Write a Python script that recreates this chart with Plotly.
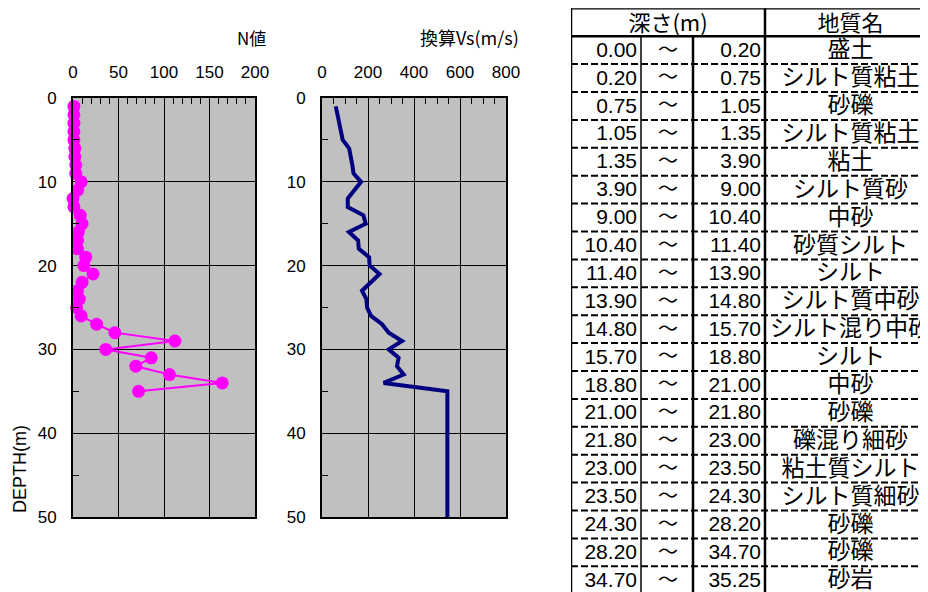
import plotly.graph_objects as go

# ---------------- data ----------------
n_depth = list(range(1, 36))
n_value = [1, 1, 1, 1, 1, 2, 2, 3, 3, 9, 5, 0, 1, 8, 10, 6, 5, 5, 14, 12,
           22, 10, 5, 7, 4, 9, 26, 46, 112, 36, 86, 69, 106, 164, 72]

vs_depth = [1, 5, 6, 7, 8, 9, 10, 12, 13, 14, 15, 16, 17, 18, 19, 20, 21, 23,
            24, 25, 26, 27, 28, 29, 30, 31, 32, 33, 34, 35, 50]
vs_value = [60, 90, 118, 127, 132, 137, 170, 112, 112, 180, 190, 117, 157, 160,
            205, 207, 250, 174, 193, 196, 213, 261, 290, 348, 290, 333, 326, 355,
            268, 545, 545]

layer_from = [0.00, 0.20, 0.75, 1.05, 1.35, 3.90, 9.00, 10.40, 11.40, 13.90,
              14.80, 15.70, 18.80, 21.00, 21.80, 23.00, 23.50, 24.30, 28.20, 34.70]
layer_to = [0.20, 0.75, 1.05, 1.35, 3.90, 9.00, 10.40, 11.40, 13.90, 14.80,
            15.70, 18.80, 21.00, 21.80, 23.00, 23.50, 24.30, 28.20, 34.70, 35.25]
layer_name = ["盛土", "シルト質粘土", "砂礫", "シルト質粘土", "粘土", "シルト質砂",
              "中砂", "砂質シルト", "シルト", "シルト質中砂", "シルト混り中砂", "シルト",
              "中砂", "砂礫", "礫混り細砂", "粘土質シルト", "シルト質細砂", "砂礫",
              "砂礫", "砂岩"]

header_depth = "深さ(m)"
header_name = "地質名"
title_n = "N値"
title_vs = "換算Vs(m/s)"
title_depth = "DEPTH(m)"

# ---------------- layout constants (screen pixels) ----------------
SCREEN_W, SCREEN_H = 928, 592
OFF = 8                      # page body margin
W, H = SCREEN_W - OFF, SCREEN_H - OFF
LAT = "Liberation Sans, Arial, sans-serif"
CJK = "Noto Sans CJK JP, sans-serif"

def fx(px):
    return (px - OFF) / W

def fy(py):
    return 1 - (py - OFF) / H

P_TOP, P_BOT = 98, 517
P1 = (73, 255)
P2 = (322, 506)

T_LEFT, C1, C2, C3, T_RIGHT = 571, 641, 693, 765, 936
T_TOP = 8.3
ROW_H = 27.9
n_rows_visible = (SCREEN_H - T_TOP) / ROW_H

fig = go.Figure()

# N value
fig.add_trace(go.Scatter(
    x=n_value, y=n_depth, mode="lines+markers",
    line=dict(color="#FF00FF", width=2),
    marker=dict(color="#FF00FF", size=13),
    cliponaxis=False, xaxis="x", yaxis="y", hoverinfo="skip"))

# Vs
fig.add_trace(go.Scatter(
    x=vs_value, y=vs_depth, mode="lines",
    line=dict(color="#000080", width=4),
    xaxis="x2", yaxis="y2", hoverinfo="skip"))

# table texts
row_y = [i + 1.55 for i in range(len(layer_from))]
fig.add_trace(go.Scatter(
    x=[C1 - 4] * len(layer_from), y=row_y, mode="text",
    text=[f"{v:.2f}" for v in layer_from], textposition="middle left",
    textfont=dict(family=LAT, size=21, color="black"),
    cliponaxis=False, xaxis="x3", yaxis="y3", hoverinfo="skip"))
fig.add_trace(go.Scatter(
    x=[(C1 + C2) / 2 + 1] * len(layer_from), y=row_y, mode="text",
    text=["～"] * len(layer_from), textposition="middle center",
    textfont=dict(family=CJK, size=20, color="black"),
    cliponaxis=False, xaxis="x3", yaxis="y3", hoverinfo="skip"))
fig.add_trace(go.Scatter(
    x=[C3 - 4] * len(layer_to), y=row_y, mode="text",
    text=[f"{v:.2f}" for v in layer_to], textposition="middle left",
    textfont=dict(family=LAT, size=21, color="black"),
    cliponaxis=False, xaxis="x3", yaxis="y3", hoverinfo="skip"))
fig.add_trace(go.Scatter(
    x=[(C3 + T_RIGHT) / 2] * len(layer_name), y=row_y, mode="text",
    text=layer_name, textposition="middle center",
    textfont=dict(family=CJK, size=23, color="black"),
    cliponaxis=False, xaxis="x3", yaxis="y3", hoverinfo="skip"))
fig.add_trace(go.Scatter(
    x=[(T_LEFT + C3) / 2, (C3 + T_RIGHT) / 2], y=[0.6, 0.6], mode="text",
    text=[header_depth, header_name], textposition="middle center",
    textfont=dict(family=CJK, size=22, color="black"),
    cliponaxis=False, xaxis="x3", yaxis="y3", hoverinfo="skip"))

axis_font = dict(family=LAT, size=17, color="black")

def xcfg(dom, rng, step, minor_step):
    return dict(domain=[fx(dom[0]), fx(dom[1])], range=rng, side="top",
                tickmode="linear", tick0=0, dtick=step,
                showgrid=True, gridcolor="black", gridwidth=1,
                showline=True, linecolor="black", linewidth=2, mirror=True,
                ticks="", ticklabelstandoff=11, tickfont=axis_font,
                zeroline=False, fixedrange=True, automargin=False,
                minor=dict(tick0=0, dtick=minor_step, ticks="inside", ticklen=6,
                           tickwidth=1, tickcolor="black", showgrid=False))

def ycfg(anchor):
    return dict(domain=[fy(P_BOT), fy(P_TOP)], range=[50, 0],
                tickmode="linear", tick0=0, dtick=10,
                showgrid=True, gridcolor="black", gridwidth=1,
                showline=True, linecolor="black", linewidth=2, mirror=True,
                ticks="", ticklabelstandoff=11, tickfont=axis_font,
                zeroline=False, fixedrange=True, anchor=anchor, automargin=False,
                minor=dict(tick0=0, dtick=5, ticks="inside", ticklen=6,
                           tickwidth=1, tickcolor="black", showgrid=False))

shapes = []
# grey plot backgrounds
for xr, yr in (("x domain", "y domain"), ("x2 domain", "y2 domain")):
    shapes.append(dict(type="rect", xref=xr, yref=yr, x0=0, x1=1, y0=0, y1=1,
                       fillcolor="#C0C0C0", line=dict(width=0), layer="below"))

# table lines
def tline(x0, y0, x1, y1, w, dash="solid"):
    shapes.append(dict(type="line", xref="x3", yref="y3", x0=x0, y0=y0, x1=x1, y1=y1,
                       line=dict(color="black", width=w, dash=dash)))

bottom = len(layer_from) + 1
tline(T_LEFT, 0, T_RIGHT, 0, 2.5)
tline(T_LEFT, 1, T_RIGHT, 1, 2.5)
for k in range(2, bottom + 1):
    tline(T_LEFT, k, T_RIGHT, k, 2, "7px,3px")
tline(T_LEFT, 0, T_LEFT, bottom, 2.5)
tline(C1, 1, C1, bottom, 1.5)
tline(C2, 1, C2, bottom, 2.5)
tline(C3, 0, C3, bottom, 2.5)

annotations = [
    dict(text=title_n, xref="paper", yref="paper", x=fx(268), y=fy(37),
         xanchor="right", yanchor="middle", showarrow=False,
         font=dict(family=CJK, size=17, color="black")),
    dict(text=title_vs, xref="paper", yref="paper", x=fx(521), y=fy(37),
         xanchor="right", yanchor="middle", showarrow=False,
         font=dict(family=CJK, size=18, color="black")),
    dict(text=title_depth, xref="paper", yref="paper", x=fx(20), y=fy(469),
         xanchor="center", yanchor="middle", showarrow=False, textangle=-90,
         font=dict(family=LAT, size=18, color="black")),
]

fig.update_layout(
    width=W, height=H, margin=dict(l=0, r=0, t=0, b=0, autoexpand=False),
    paper_bgcolor="white", plot_bgcolor="white", showlegend=False,
    xaxis=dict(**xcfg(P1, [0, 200], 50, 10), anchor="y"),
    yaxis=ycfg("x"),
    xaxis2=dict(**xcfg(P2, [0, 800], 200, 50), anchor="y2"),
    yaxis2=ycfg("x2"),
    xaxis3=dict(domain=[fx(T_LEFT), 1], range=[T_LEFT, SCREEN_W], visible=False,
                anchor="y3", fixedrange=True, automargin=False),
    yaxis3=dict(domain=[0, fy(T_TOP)], range=[n_rows_visible, 0], visible=False,
                anchor="x3", fixedrange=True, automargin=False),
    shapes=shapes, annotations=annotations,
)

fig.write_html("out.html")
